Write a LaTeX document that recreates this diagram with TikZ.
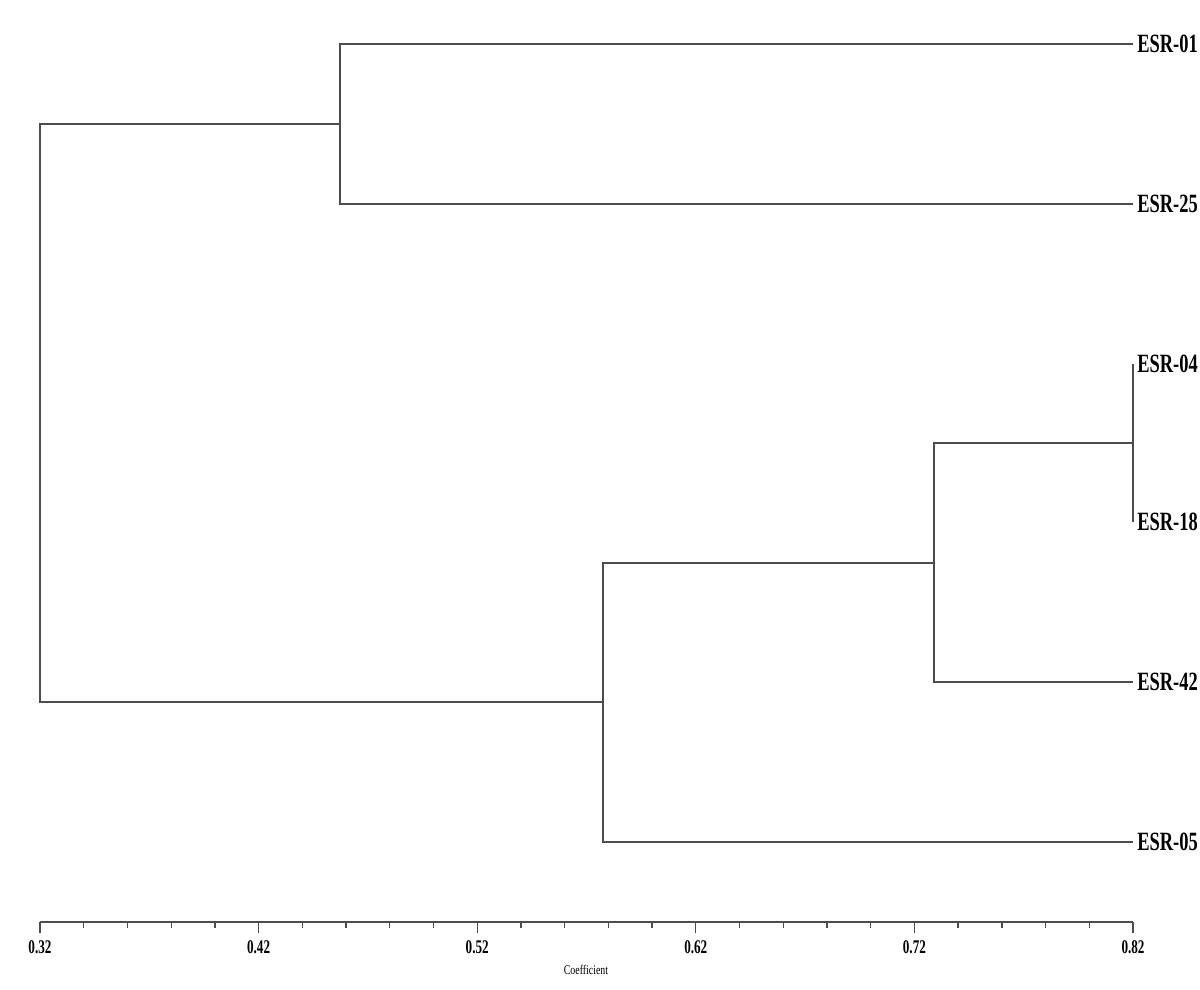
\documentclass[tikz,border=0pt]{standalone}
\usepackage{fontspec}
\setmainfont{Liberation Serif}
\usepackage{tikz}
\usetikzlibrary{calc}
\usepackage{xcolor}
\definecolor{tree-gray}{gray}{0.3}

\begin{document}
\begin{tikzpicture}[
		branch/.style={draw=tree-gray, line width=0.75pt},
		leaf/.style={anchor=west, inner sep=0pt, font=\bfseries\fontsize{15}{15}\selectfont, xscale=0.7, transform shape},
		ticklabel/.style={inner sep=0pt, font=\bfseries\fontsize{11}{11}\selectfont, xscale=0.68, transform shape},
		axislabel/.style={inner sep=0pt, font=\fontsize{7.5}{7.5}\selectfont, xscale=0.75, transform shape}
	]
					\useasboundingbox (0,0) rectangle (24,19.78);
					
					\coordinate (e01) at (22.66,18.90);
					\coordinate (e25) at (22.66,15.70);
					\coordinate (e04) at (22.66,12.50);
					\coordinate (e18) at (22.66,9.34);
					\coordinate (e42) at (22.66,6.14);
					\coordinate (e05) at (22.66,2.94);
					
					\node[leaf] at (22.74,18.90) (l01) {ESR-01};
					\node[leaf] at (22.74,15.70) (l25) {ESR-25};
					\node[leaf] at (22.74,12.50) (l04) {ESR-04};
					\node[leaf] at (22.74,9.34) (l18) {ESR-18};
					\node[leaf] at (22.74,6.14) (l42) {ESR-42};
					\node[leaf] at (22.74,2.94) (l05) {ESR-05};
					
					\coordinate (j0125) at (6.80,17.30);
					\coordinate (j0418) at (22.66,10.92);
					\coordinate (j42) at (18.68,8.52);
					\coordinate (j05) at (12.06,5.74);
					\coordinate (root) at (0.80,11.52);
					
					\draw[branch] (j0125) |- (e01);
					\draw[branch] (j0125) |- (e25);
					\draw[branch] (j0418) |- (e04);
					\draw[branch] (j0418) |- (e18);
					\draw[branch] (j42) |- (j0418);
					\draw[branch] (j42) |- (e42);
					\draw[branch] (j05) |- (j42);
					\draw[branch] (j05) |- (e05);
					\draw[branch] (root) |- (j0125);
					\draw[branch] (root) |- (j05);
					
					\coordinate (ax0) at (0.80,1.34);
					\coordinate (ax1) at (22.66,1.34);
					\draw[branch] (ax0) -- (ax1);
					\foreach \i in {0,...,25} {
						\pgfmathsetmacro{\len}{ifthenelse(mod(\i,5)==0,0.22,0.12)}
						\draw[branch] ($(ax0)+(\i*0.8744,0)$) -- ++(0,-\len);
					}
					\foreach \v [count=\k from 0] in {0.32,0.42,0.52,0.62,0.72,0.82}
						\node[ticklabel] at (0.80+\k*4.372,0.84) (t\k) {\v};
					
					\node[axislabel] at (11.72,0.38) (coef) {Coefficient};
				\end{tikzpicture}
\end{document}
